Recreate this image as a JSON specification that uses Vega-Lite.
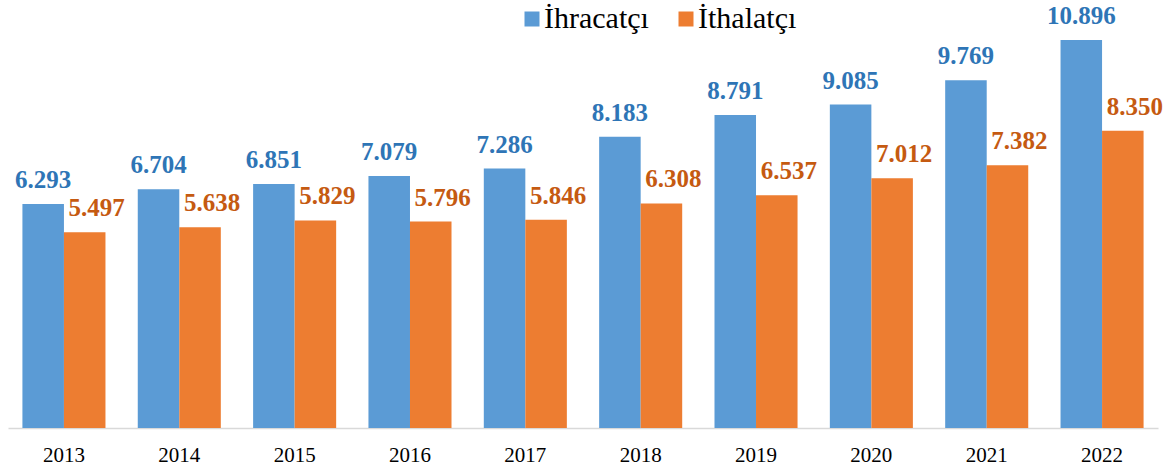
{
  "$schema": "https://vega.github.io/schema/vega-lite/v6.json",
  "width": 1150,
  "height": 428,
  "padding": {"left": 8, "top": 0, "right": 17, "bottom": 0},
  "background": "white",
  "config": {"view": {"stroke": null}, "font": "Liberation Serif"},
  "data": {
    "values": [
      {"year": "2013", "type": "İhracatçı", "value": 6.293},
      {"year": "2013", "type": "İthalatçı", "value": 5.497},
      {"year": "2014", "type": "İhracatçı", "value": 6.704},
      {"year": "2014", "type": "İthalatçı", "value": 5.638},
      {"year": "2015", "type": "İhracatçı", "value": 6.851},
      {"year": "2015", "type": "İthalatçı", "value": 5.829},
      {"year": "2016", "type": "İhracatçı", "value": 7.079},
      {"year": "2016", "type": "İthalatçı", "value": 5.796},
      {"year": "2017", "type": "İhracatçı", "value": 7.286},
      {"year": "2017", "type": "İthalatçı", "value": 5.846},
      {"year": "2018", "type": "İhracatçı", "value": 8.183},
      {"year": "2018", "type": "İthalatçı", "value": 6.308},
      {"year": "2019", "type": "İhracatçı", "value": 8.791},
      {"year": "2019", "type": "İthalatçı", "value": 6.537},
      {"year": "2020", "type": "İhracatçı", "value": 9.085},
      {"year": "2020", "type": "İthalatçı", "value": 7.012},
      {"year": "2021", "type": "İhracatçı", "value": 9.769},
      {"year": "2021", "type": "İthalatçı", "value": 7.382},
      {"year": "2022", "type": "İhracatçı", "value": 10.896},
      {"year": "2022", "type": "İthalatçı", "value": 8.350}
    ]
  },
  "encoding": {
    "x": {
      "field": "year", "type": "nominal", "title": null,
      "scale": {"paddingInner": 0.28, "paddingOuter": 0.125},
      "axis": {
        "labelAngle": 0, "ticks": false, "domainColor": "#d9d9d9", "domainWidth": 1.5,
        "labelFont": "Liberation Serif", "labelFontSize": 21, "labelColor": "#000000",
        "labelPadding": 16, "grid": false
      }
    },
    "xOffset": {"field": "type", "type": "nominal", "scale": {"padding": 0}},
    "y": {
      "field": "value", "type": "quantitative",
      "scale": {"domain": [0, 12.02], "nice": false, "zero": true},
      "axis": null
    }
  },
  "layer": [
    {
      "mark": {"type": "bar"},
      "encoding": {
        "color": {
          "field": "type", "type": "nominal",
          "scale": {"domain": ["İhracatçı", "İthalatçı"], "range": ["#5B9BD5", "#ED7D31"]},
          "legend": {
            "title": null, "orient": "none", "direction": "horizontal",
            "legendX": 509, "legendY": 4,
            "symbolType": "square", "symbolSize": 225, "symbolStrokeWidth": 0,
            "labelFont": "Liberation Serif", "labelFontSize": 30, "labelColor": "#000000",
            "labelOffset": -3, "columnPadding": 22, "labelLimit": 300
          }
        }
      }
    },
    {
      "transform": [{"filter": "datum.type === 'İhracatçı'"}],
      "mark": {"type": "text", "baseline": "middle", "align": "center", "dy": -24,
               "font": "Liberation Serif", "fontWeight": "bold", "fontSize": 25, "color": "#2E75B6"},
      "encoding": {"text": {"field": "value", "type": "quantitative", "format": ".3f"}}
    },
    {
      "transform": [{"filter": "datum.type === 'İthalatçı'"}],
      "mark": {"type": "text", "baseline": "middle", "align": "center", "dy": -24, "dx": 12,
               "font": "Liberation Serif", "fontWeight": "bold", "fontSize": 25, "color": "#C55A11"},
      "encoding": {"text": {"field": "value", "type": "quantitative", "format": ".3f"}}
    }
  ]
}
